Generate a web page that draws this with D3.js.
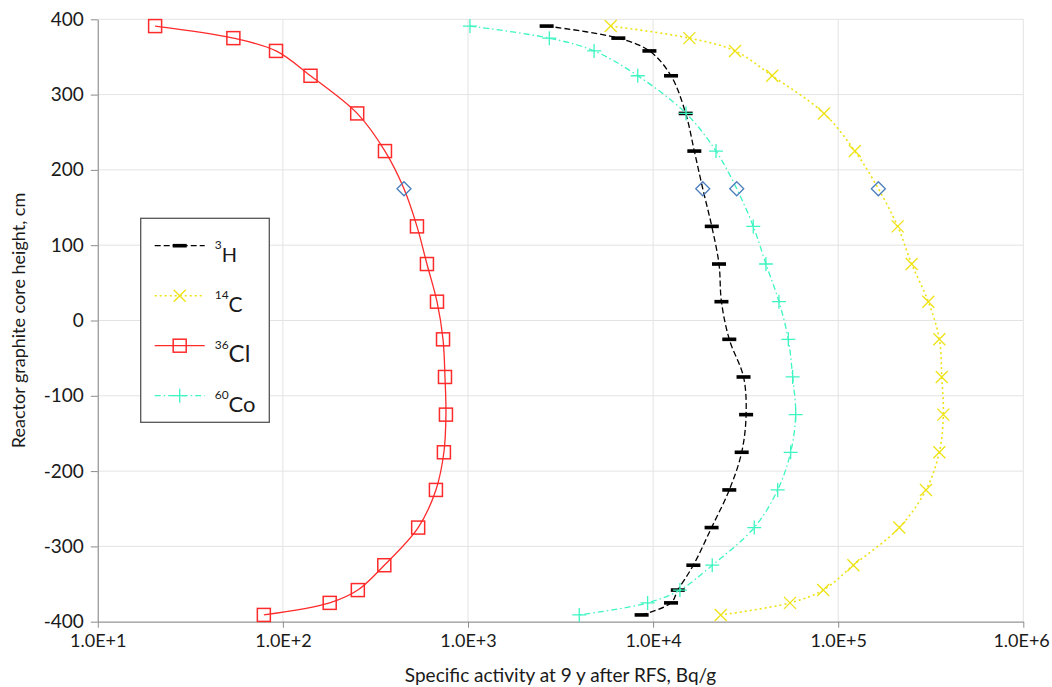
<!DOCTYPE html>
<html>
<head>
  <meta charset="utf-8">
  <title>Specific activity profiles</title>
  <script src="https://d3js.org/d3.v7.min.js"></script>
  <style>
    body { margin: 0; background: #fff; }
    text { font-family: Lato, "Open Sans", sans-serif; fill: #1a1a1a; }
  </style>
</head>
<body>
  <div id="chart"></div>

  <script>
    // core heights (cm) where the curves were sampled
    var heights = [391, 375, 358, 325, 275, 225, 125, 75, 25, -25, -75, -125, -175, -225, -275, -325, -358, -375, -391];

    // specific activity, Bq/g
    var h3 = [2660, 6490, 9550, 12500, 15000, 16700, 20750, 22700, 23400, 25800, 30800, 31800, 30100, 25800, 20700, 16500, 13600, 12500, 8670];
    var c14 = [5900, 15700, 27700, 44000, 83800, 123000, 209600, 249400, 306900, 351900, 362500, 369800, 351900, 298000, 213800, 120800, 83000, 54900, 23200];
    var cl36 = [20.4, 54, 91.8, 141, 252, 356, 530, 600, 680, 733, 751, 760, 741, 671, 538, 353, 254, 179, 78.9];
    var co60 = [1025, 2750, 4800, 8260, 15060, 21870, 34760, 40700, 47860, 53760, 56750, 58900, 55350, 47100, 35200, 20870, 13960, 9340, 3990];

    // measured points at 175 cm (blue diamonds): Cl, H, Co, C
    var measuredHeight = 175;
    var measured = [451, 18550, 28300, 164800];

    var xTicks = [1e1, 1e2, 1e3, 1e4, 1e5, 1e6];
    var yTicks = [400, 300, 200, 100, 0, -100, -200, -300, -400];

    var svgW = 1052, svgH = 687;
    var margin = { top: 19.3, right: 28.7, bottom: 65.3, left: 97.8 };
    var width = svgW - margin.left - margin.right;
    var height = svgH - margin.top - margin.bottom;

    var svg = d3.select('#chart').append('svg')
      .attr('width', svgW)
      .attr('height', svgH);

    var g = svg.append('g')
      .attr('transform', 'translate(' + margin.left + ',' + margin.top + ')');

    var x = d3.scaleLog().domain([1e1, 1e6]).range([0, width]);
    var y = d3.scaleLinear().domain([-400, 400]).range([height, 0]);

    // gridlines
    g.append('g').selectAll('line.hg')
      .data(yTicks).enter().append('line')
      .attr('x1', 0).attr('x2', width)
      .attr('y1', function(d) { return y(d); })
      .attr('y2', function(d) { return y(d); })
      .attr('stroke', '#e3e3e3').attr('stroke-width', 1);

    g.append('g').selectAll('line.vg')
      .data(xTicks).enter().append('line')
      .attr('y1', 0).attr('y2', height)
      .attr('x1', function(d) { return x(d); })
      .attr('x2', function(d) { return x(d); })
      .attr('stroke', '#e3e3e3').attr('stroke-width', 1);

    // axes
    var xAxis = g.append('g')
      .attr('transform', 'translate(0,' + height + ')')
      .call(d3.axisBottom(x).ticks(5).tickSize(6).tickSizeOuter(0)
        .tickFormat(function(d) {
          return xTicks.indexOf(d) >= 0 ? '1.0E+' + Math.round(Math.log10(d)) : '';
        }));
    xAxis.selectAll('.tick line')
      .attr('y2', function(d) { return xTicks.indexOf(d) >= 0 ? 6 : 4; });
    xAxis.selectAll('text')
      .attr('y', 13)
      .style('font-size', '18px')
      .style('font-family', 'Lato, sans-serif');
    // keep the last label inside the page
    xAxis.selectAll('.tick text')
      .filter(function(d) { return d === 1e6; })
      .attr('text-anchor', 'end')
      .attr('x', 26);

    var yAxis = g.append('g')
      .call(d3.axisLeft(y).tickValues(yTicks).tickSize(7).tickSizeOuter(0)
        .tickFormat(function(d) { return String(d); }));
    yAxis.selectAll('text')
      .attr('x', -14)
      .style('font-size', '19px')
      .style('font-family', 'Lato, sans-serif');

    [xAxis, yAxis].forEach(function(a) {
      a.select('.domain').attr('stroke', '#8c8c8c');
      a.selectAll('.tick line').attr('stroke', '#8c8c8c');
      a.selectAll('text').attr('fill', '#1a1a1a');
    });

    // axis titles
    g.append('text')
      .attr('x', width / 2)
      .attr('y', height + 60)
      .attr('text-anchor', 'middle')
      .style('font-size', '19px')
      .text('Specific activity at 9 y after RFS, Bq/g');

    g.append('text')
      .attr('transform', 'rotate(-90)')
      .attr('x', -height / 2)
      .attr('y', -73)
      .attr('text-anchor', 'middle')
      .style('font-size', '18px')
      .text('Reactor graphite core height, cm');

    // series
    var series = [
      { name: 'H', mass: '3', values: h3, mi: 1, color: '#000000', dash: '6,3', width: 1.3, marker: 'dash', size: 20 },
      { name: 'C', mass: '14', values: c14, mi: 3, color: '#eee215', dash: '2,3', width: 1.6, marker: 'x', size: 21 },
      { name: 'Cl', mass: '36', values: cl36, mi: 0, color: '#ff2a2a', dash: null, width: 1.3, marker: 'square', size: 24 },
      { name: 'Co', mass: '60', values: co60, mi: 2, color: '#3ef5c2', dash: '6,3,1.5,3', width: 1.3, marker: 'plus', size: 22 }
    ];

    var line = d3.line()
      .x(function(d) { return x(d.v); })
      .y(function(d) { return y(d.h); })
      .curve(d3.curveCatmullRom.alpha(0.5));

    function drawMarker(sel, type, color) {
      if (type === 'dash') {
        sel.append('rect').attr('x', -7).attr('y', -1.8).attr('width', 14).attr('height', 3.6)
          .attr('fill', color);
      } else if (type === 'x') {
        sel.append('path').attr('d', 'M-6,-6L6,6M-6,6L6,-6')
          .attr('stroke', color).attr('stroke-width', 1.3).attr('fill', 'none');
      } else if (type === 'square') {
        sel.append('rect').attr('x', -6.5).attr('y', -6.5).attr('width', 13).attr('height', 13)
          .attr('stroke', color).attr('stroke-width', 1.5).attr('fill', 'none');
      } else if (type === 'plus') {
        sel.append('path').attr('d', 'M-7,0L7,0M0,-7L0,7')
          .attr('stroke', color).attr('stroke-width', 1.3).attr('fill', 'none');
      }
    }

    series.forEach(function(s) {
      var pts = heights.map(function(h, i) { return { h: h, v: s.values[i] }; });
      var all = pts.concat([{ h: measuredHeight, v: measured[s.mi] }])
        .sort(function(a, b) { return b.h - a.h; });

      g.append('path')
        .datum(all)
        .attr('d', line)
        .attr('fill', 'none')
        .attr('stroke', s.color)
        .attr('stroke-width', s.width)
        .attr('stroke-dasharray', s.dash);

      g.selectAll(null)
        .data(pts).enter().append('g')
        .attr('transform', function(d) { return 'translate(' + x(d.v) + ',' + y(d.h) + ')'; })
        .each(function() { drawMarker(d3.select(this), s.marker, s.color); });
    });

    // measured diamonds
    g.selectAll('path.diamond')
      .data(measured).enter().append('path')
      .attr('class', 'diamond')
      .attr('transform', function(d) { return 'translate(' + x(d) + ',' + y(measuredHeight) + ')'; })
      .attr('d', 'M0,-7L7,0L0,7L-7,0Z')
      .attr('fill', 'none')
      .attr('stroke', '#4a7ebb')
      .attr('stroke-width', 1.3);

    // legend
    var legend = svg.append('g').attr('transform', 'translate(140.7,218.3)');
    legend.append('rect')
      .attr('width', 128.6).attr('height', 204)
      .attr('fill', '#fff')
      .attr('stroke', '#555').attr('stroke-width', 1.3);

    series.forEach(function(s, i) {
      var row = legend.append('g').attr('transform', 'translate(0,' + (27.4 + i * 50) + ')');
      row.append('line')
        .attr('x1', 14).attr('x2', 64)
        .attr('stroke', s.color).attr('stroke-width', s.width)
        .attr('stroke-dasharray', s.dash);
      drawMarker(row.append('g').attr('transform', 'translate(39,0)'), s.marker, s.color);
      var t = row.append('text').attr('x', 74).attr('y', 16);
      t.append('tspan').attr('dy', -13).style('font-size', '12px').text(s.mass);
      t.append('tspan').attr('dy', 13).style('font-size', s.size + 'px').text(s.name);
    });
  </script>
</body>
</html>
